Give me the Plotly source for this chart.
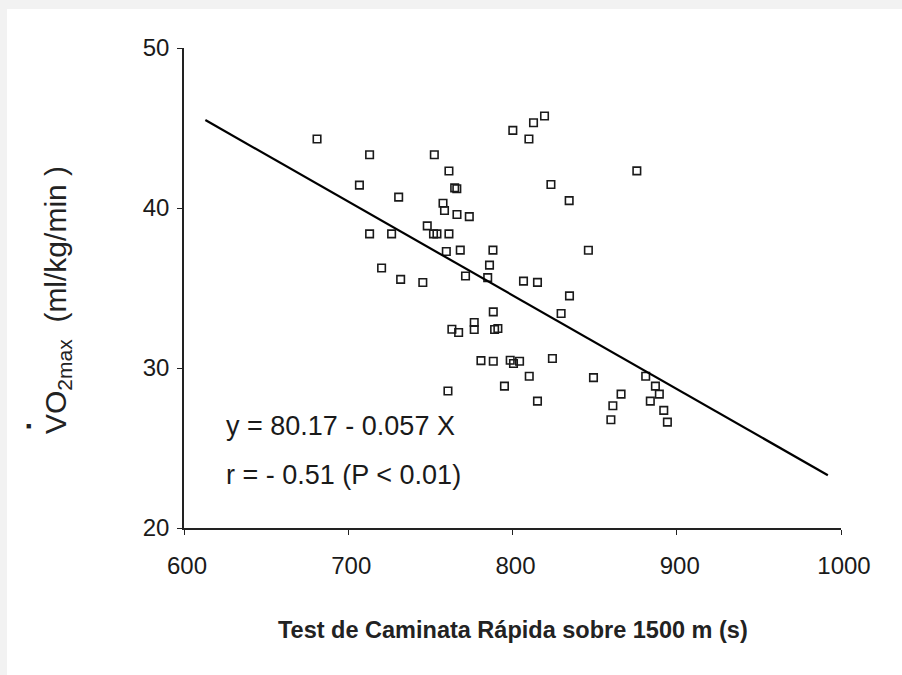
import plotly.graph_objects as go

# ---- data ----
walk_time_s = [
    681.0, 713.0, 752.4, 761.3, 706.8, 764.8, 766.1, 730.7, 757.7, 758.6,
    766.2, 773.7, 748.1, 713.0, 726.4, 751.9, 754.0, 761.3, 759.7, 768.2,
    788.1, 720.3, 786.0, 771.4, 784.9, 731.9, 745.4, 800.2, 810.0, 812.8,
    819.5, 875.7, 823.4, 834.5, 846.2, 806.7, 815.2, 834.7, 829.6, 788.3,
    763.1, 767.2, 776.7, 776.7, 789.1, 791.1, 780.8, 788.3, 798.6, 800.6,
    804.3, 824.3, 810.2, 795.1, 760.7, 849.3, 815.2, 881.1, 887.0, 889.4,
    883.9, 866.1, 861.1, 859.9, 892.1, 894.3,
]
vo2max = [
    44.31, 43.33, 43.33, 42.31, 41.43, 41.26, 41.20, 40.68, 40.30, 39.84,
    39.59, 39.46, 38.88, 38.38, 38.38, 38.38, 38.38, 38.38, 37.28, 37.37,
    37.37, 36.25, 36.43, 35.75, 35.65, 35.54, 35.34, 44.85, 44.31, 45.33,
    45.75, 42.32, 41.47, 40.46, 37.36, 35.43, 35.35, 34.51, 33.41, 33.51,
    32.42, 32.22, 32.84, 32.41, 32.41, 32.47, 30.46, 30.42, 30.48, 30.28,
    30.42, 30.59, 29.48, 28.87, 28.56, 29.40, 27.93, 29.48, 28.87, 28.37,
    27.93, 28.37, 27.64, 26.77, 27.35, 26.62,
]
fit_x = [613, 992]
fit_y = [45.5, 23.3]
x_ticks = [600, 700, 800, 900, 1000]
y_ticks = [20, 30, 40, 50]
x_title = "Test de Caminata Rápida sobre 1500 m (s)"
y_title = "VO<sub>2max</sub>  (ml/kg/min )"
eq_text = "y = 80.17 - 0.057 X"
r_text = "r = - 0.51 (P &lt; 0.01)"

FONT = "Liberation Sans, Arial, Helvetica, sans-serif"
INK = "#1a1a1a"
FRAME = "#f2f2f2"

W, H = 902, 675
ML, MR, MT, MB = 184, 61, 48, 147
PW, PH = W - ML - MR, H - MT - MB


def px_x(px):
    return (px - ML) / PW


def px_y(py):
    return (H - MB - py) / PH


fig = go.Figure()
fig.add_trace(go.Scatter(
    x=walk_time_s, y=vo2max, mode="markers",
    marker=dict(symbol="square-open", size=7.5, color=INK, line=dict(width=1.6, color=INK)),
    showlegend=False, hoverinfo="x+y",
))
fig.add_trace(go.Scatter(
    x=fit_x, y=fit_y, mode="lines",
    line=dict(color="#000000", width=2.2),
    showlegend=False, hoverinfo="skip",
))

fig.update_layout(
    width=W, height=H,
    margin=dict(l=ML, r=MR, t=MT, b=MB),
    paper_bgcolor="#ffffff",
    plot_bgcolor="#ffffff",
    font=dict(family=FONT, color=INK),
    xaxis=dict(
        range=[600, 1000], tickvals=x_ticks, ticktext=[str(v) for v in x_ticks],
        showgrid=False, zeroline=False, showline=True, linecolor="#222222", linewidth=1.6,
        ticks="outside", ticklen=5, tickwidth=1.4, tickcolor="#222222",
        tickfont=dict(size=24, family=FONT, color=INK),
        ticklabelstandoff=10, ticklabelshift=3,
    ),
    yaxis=dict(
        range=[20, 50], tickvals=y_ticks, ticktext=[str(v) for v in y_ticks],
        showgrid=False, zeroline=False, showline=True, linecolor="#222222", linewidth=1.6,
        ticks="outside", ticklen=5, tickwidth=1.4, tickcolor="#222222",
        tickfont=dict(size=24, family=FONT, color=INK),
        ticklabelstandoff=3,
    ),
    shapes=[
        # light-grey frame strips along the top and left edges
        dict(type="rect", xref="paper", yref="paper", layer="below",
             x0=px_x(-2), x1=px_x(W + 2), y0=px_y(9), y1=px_y(-2),
             fillcolor=FRAME, line=dict(width=0)),
        dict(type="rect", xref="paper", yref="paper", layer="below",
             x0=px_x(-2), x1=px_x(7), y0=px_y(H + 2), y1=px_y(-2),
             fillcolor=FRAME, line=dict(width=0)),
    ],
    annotations=[
        dict(text=eq_text, xref="paper", yref="paper", x=px_x(224), y=px_y(426),
             xanchor="left", yanchor="middle", showarrow=False,
             font=dict(size=27, family=FONT, color=INK)),
        dict(text=r_text, xref="paper", yref="paper", x=px_x(224), y=px_y(475),
             xanchor="left", yanchor="middle", showarrow=False,
             font=dict(size=27, family=FONT, color=INK)),
        dict(text=x_title, xref="paper", yref="paper", x=0.5, y=px_y(630),
             xanchor="center", yanchor="middle", showarrow=False,
             font=dict(size=23.5, family=FONT, color="#222222", weight="bold")),
        dict(text=y_title, xref="paper", yref="paper", x=px_x(57), y=px_y(300),
             xanchor="center", yanchor="middle", showarrow=False, textangle=-90,
             font=dict(size=30, family=FONT, color="#222222")),
        dict(text="■", xref="paper", yref="paper", x=px_x(28), y=px_y(426),
             xanchor="center", yanchor="middle", showarrow=False,
             font=dict(size=9, family=FONT, color="#222222")),
    ],
)

fig.write_html(
    "out.html",
    config={"displayModeBar": False},
    post_script="document.body.style.margin='0';document.body.style.background='#ffffff';",
)
